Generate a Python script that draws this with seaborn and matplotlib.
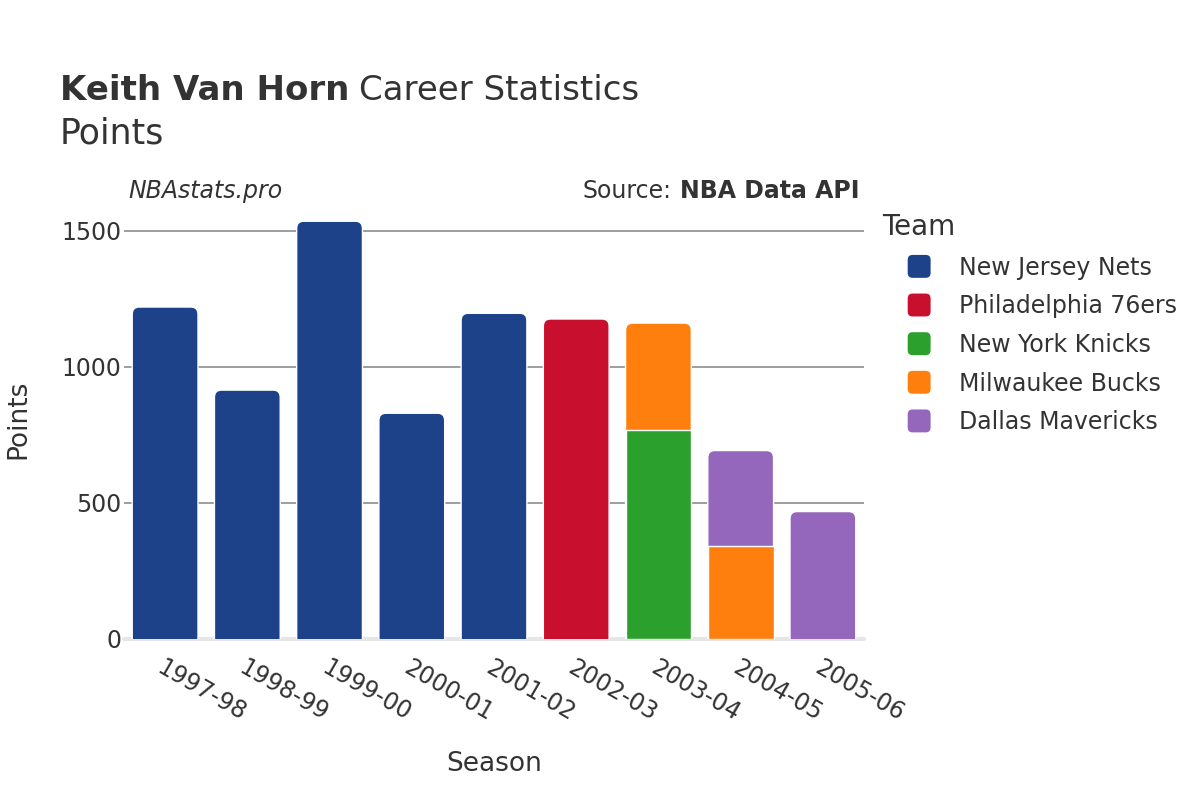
import seaborn as sns
import matplotlib.pyplot as plt
import pandas as pd
import numpy as np
from matplotlib.patches import FancyBboxPatch
from matplotlib.legend_handler import HandlerBase

sns.set_style("white")
plt.rcParams["font.family"] = ["DejaVu Sans"]

# Data
seasons = ["1997-98", "1998-99", "1999-00", "2000-01", "2001-02",
           "2002-03", "2003-04", "2004-05", "2005-06"]
teams = ["New Jersey Nets", "Philadelphia 76ers", "New York Knicks",
         "Milwaukee Bucks", "Dallas Mavericks"]
nets_pts = [1219, 914, 1534, 829, 1196, 0, 0, 0, 0]
sixers_pts = [0, 0, 0, 0, 0, 1175, 0, 0, 0]
knicks_pts = [0, 0, 0, 0, 0, 0, 769, 0, 0]
bucks_pts = [0, 0, 0, 0, 0, 0, 391, 341, 0]
mavs_pts = [0, 0, 0, 0, 0, 0, 0, 351, 468]
team_colors = ["#1d428a", "#c8102e", "#2ca02c", "#ff7f0e", "#9467bd"]

palette = dict(zip(teams, team_colors))
points = np.array([nets_pts, sixers_pts, knicks_pts, bucks_pts, mavs_pts])
cum = points.cumsum(axis=0)

TXT = "#333333"

fig = plt.figure(figsize=(12, 8), dpi=100)
ax = fig.add_axes([124 / 1200, 1 - 639 / 800, 740 / 1200, (639 - 200) / 800])

# stacked bars: draw cumulative tops from last team down so lower segments overlay
top_patch = {}
for k in range(len(teams) - 1, -1, -1):
    mask = points[k] > 0
    if not mask.any():
        continue
    df = pd.DataFrame({
        "Season": np.array(seasons)[mask],
        "Points": cum[k][mask],
        "Team": teams[k],
    })
    n0 = len(ax.patches)
    sns.barplot(data=df, x="Season", y="Points", hue="Team", palette=palette,
                order=seasons, hue_order=teams, dodge=False, width=0.8,
                saturation=1, edgecolor="white", linewidth=1, legend=False,
                zorder=3, ax=ax)
    for p in ax.patches[n0:]:
        if p.get_height() <= 0:
            continue
        i = int(round(p.get_x() + p.get_width() / 2))
        if i not in top_patch:
            top_patch[i] = p

ax.set_xlim(-0.5, len(seasons) - 0.5)
ax.set_ylim(0, 1612)

# round the top corners of each full bar
r = 0.085
aspect = 26 / r
for i, p in top_patch.items():
    x, w, h = p.get_x(), p.get_width(), p.get_height()
    fb = FancyBboxPatch((x, -40), w, h + 40,
                        boxstyle=f"round,pad=0,rounding_size={r}",
                        mutation_aspect=aspect, facecolor=p.get_facecolor(),
                        edgecolor="white", linewidth=1, zorder=2.9)
    p.remove()
    ax.add_patch(fb)

# axes styling
ax.set_yticks([0, 500, 1000, 1500])
ax.yaxis.grid(True, color="#8c8c8c", linewidth=1.2, zorder=0)
ax.axhline(0, color="#e6e6e6", linewidth=3, zorder=1, clip_on=False)
for s in ax.spines.values():
    s.set_visible(False)
ax.tick_params(axis="both", length=0, labelsize=17, labelcolor=TXT)
ax.tick_params(axis="y", pad=2)
plt.setp(ax.get_xticklabels(), rotation=-30, ha="left", va="top",
         rotation_mode="anchor")
ax.tick_params(axis="x", pad=12)
ax.set_xlabel("Season", fontsize=19, color=TXT)
ax.set_ylabel("Points", fontsize=19, color=TXT)
ax.yaxis.set_label_coords(-0.125, 0.5)
ax.xaxis.set_label_coords(0.5, -0.255)


# legend with rounded square markers
class RoundHandler(HandlerBase):
    def create_artists(self, legend, orig, xdescent, ydescent, width, height,
                       fontsize, trans):
        s = 16.5
        b = FancyBboxPatch((-xdescent + 18.5, -ydescent + height / 2 - s / 2), s, s,
                           boxstyle="round,pad=0,rounding_size=3.5",
                           facecolor=orig.get_facecolor(), edgecolor="none",
                           transform=trans)
        return [b]


handles = [plt.Rectangle((0, 0), 1, 1, facecolor=c) for c in team_colors]
leg = fig.legend(handles, teams, handler_map={plt.Rectangle: RoundHandler()},
                 loc="upper left", bbox_to_anchor=(882 / 1200, 1 - 213 / 800),
                 frameon=False, fontsize=17, title="Team", title_fontsize=20,
                 alignment="left", handlelength=2.8, handletextpad=0.45,
                 labelspacing=0.62, borderpad=0, borderaxespad=0)
for t in leg.get_texts():
    t.set_color(TXT)
leg.get_title().set_color(TXT)

# title and annotations
t1 = fig.text(60 / 1200, 1 - 100 / 800, "Keith Van Horn", fontsize=24.5,
              fontweight="bold", color=TXT, va="baseline")
fig.canvas.draw()
bb = t1.get_window_extent()
fig.text(bb.x1 / 1200 + 10 / 1200, 1 - 100 / 800, "Career Statistics",
         fontsize=24.5, color=TXT, va="baseline")
fig.text(60 / 1200, 1 - 143 / 800, "Points", fontsize=25, color=TXT,
         va="baseline")
fig.text(128 / 1200, 1 - 198 / 800, "NBAstats.pro", fontsize=17,
         style="italic", color=TXT, va="baseline")
t2 = fig.text(860 / 1200, 1 - 198 / 800, "NBA Data API", fontsize=17,
              fontweight="bold", color=TXT, va="baseline", ha="right")
fig.canvas.draw()
bb2 = t2.get_window_extent()
fig.text(bb2.x0 / 1200 - 9 / 1200, 1 - 198 / 800, "Source:", fontsize=17,
         color=TXT, va="baseline", ha="right")

fig.savefig("out.png", dpi=100, facecolor="white")
plt.close(fig)
